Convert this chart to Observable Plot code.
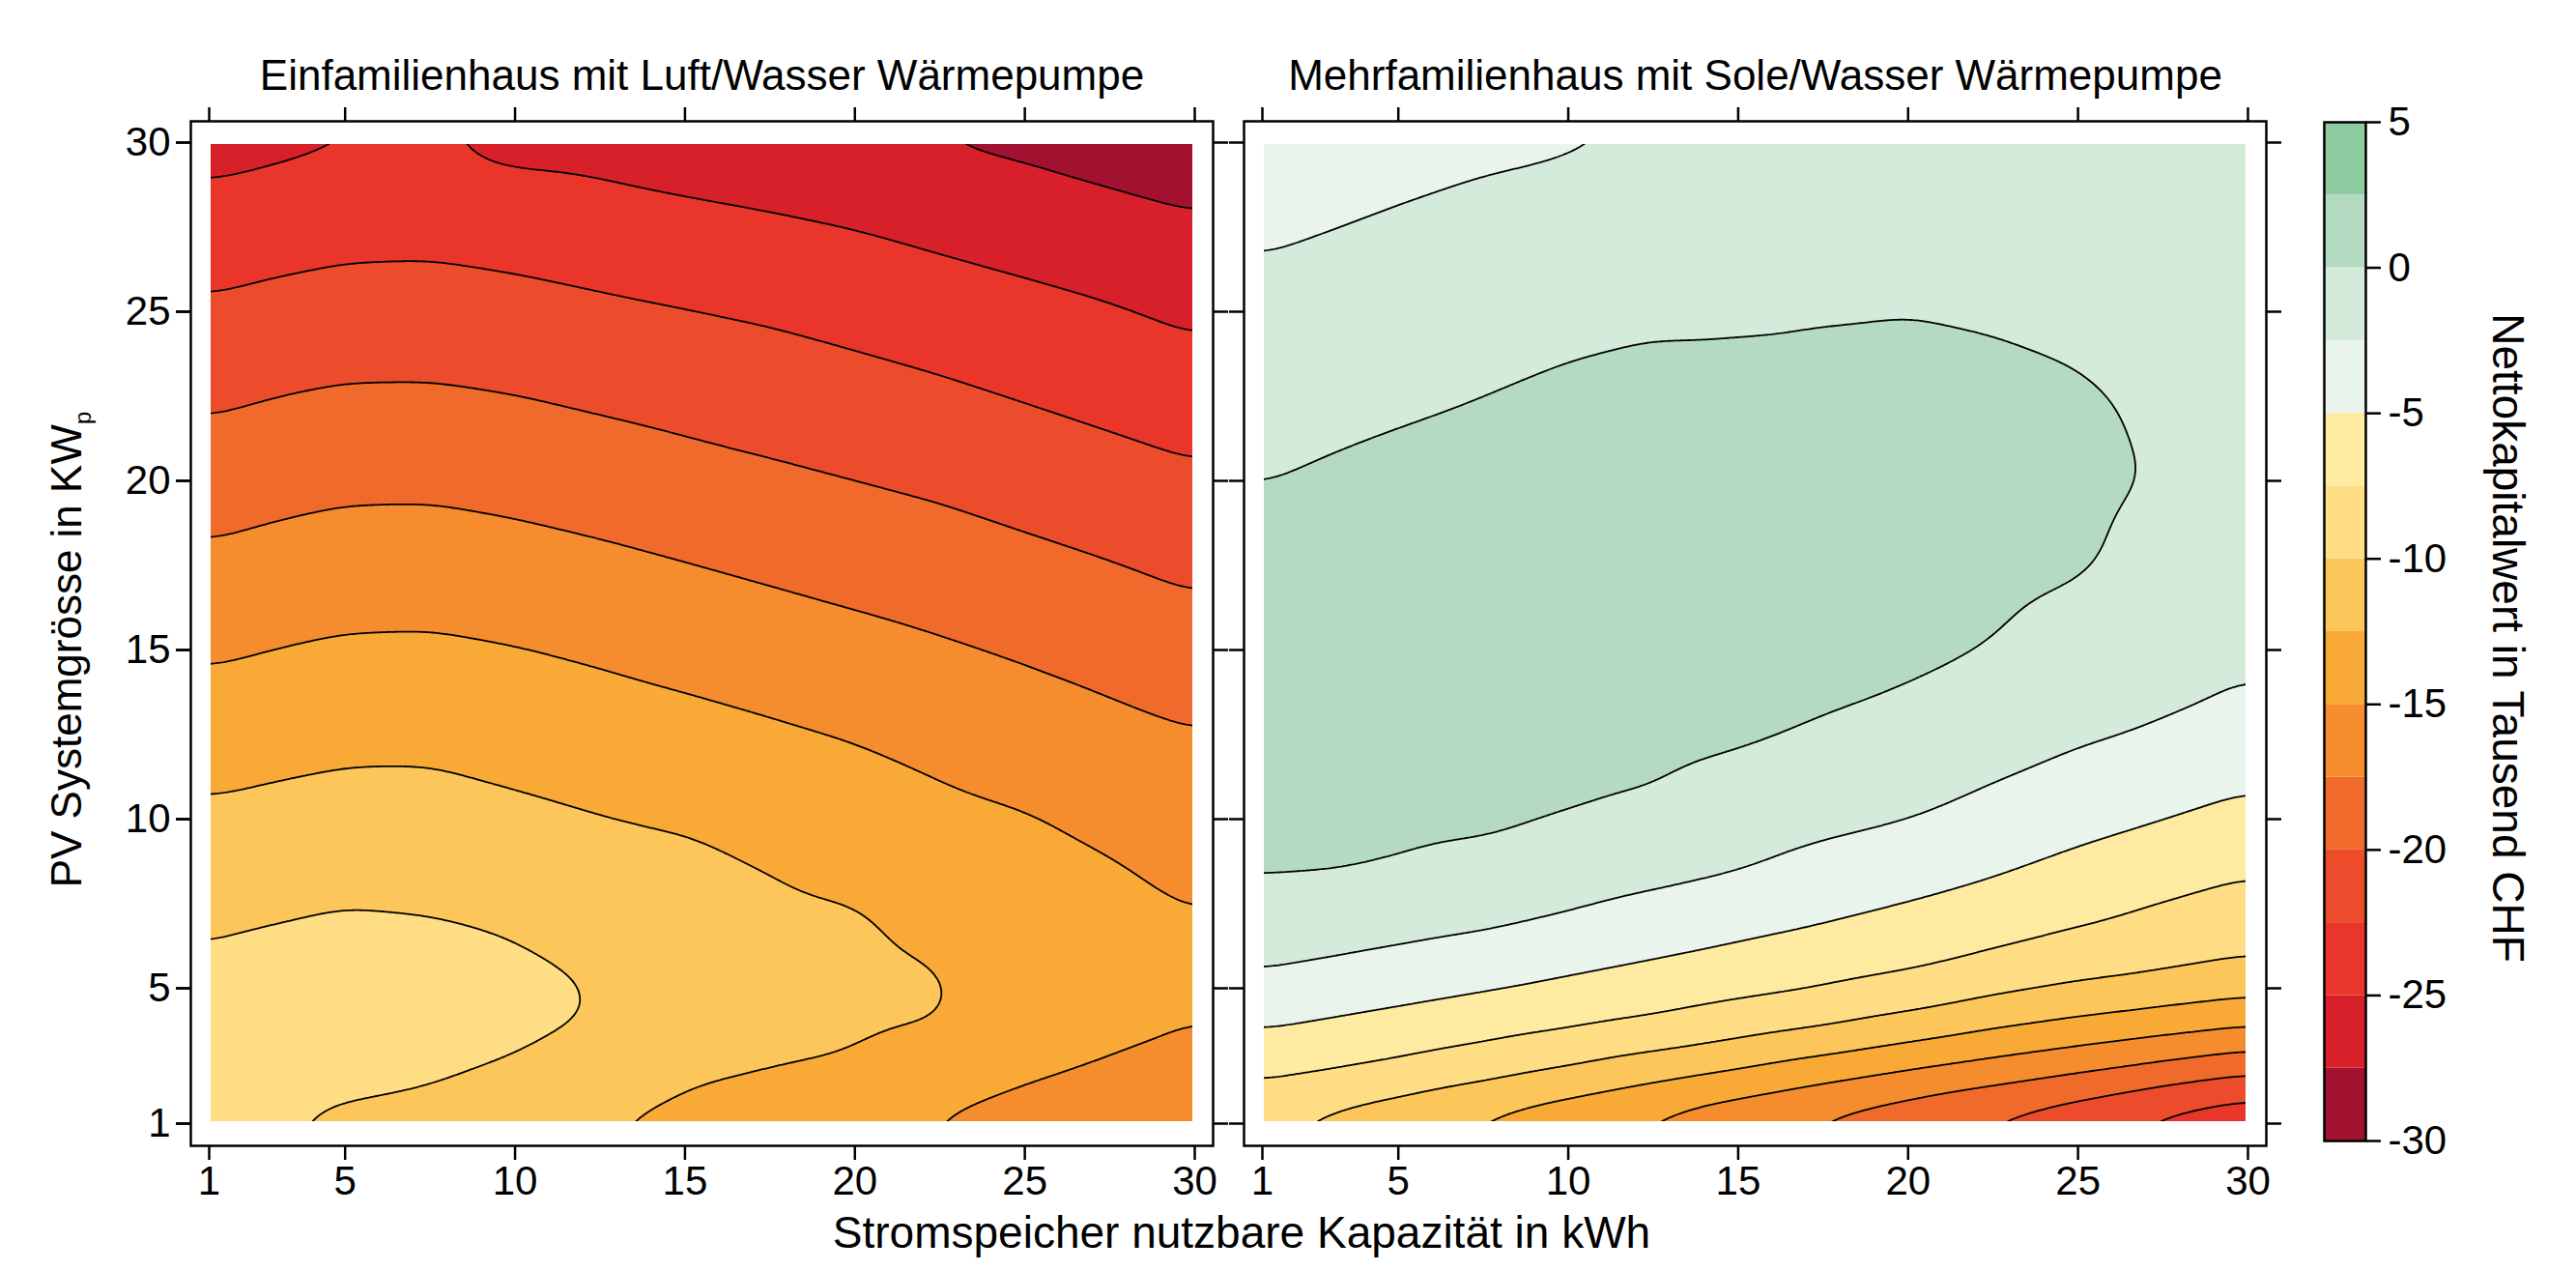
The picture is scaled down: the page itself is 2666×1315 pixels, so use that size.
<!DOCTYPE html>
<html><head><meta charset="utf-8">
<script src="https://cdn.jsdelivr.net/npm/d3@7"></script>
<script src="https://cdn.jsdelivr.net/npm/@observablehq/plot@0.6"></script>
<style>
html,body{margin:0;padding:0;background:#fff;}
#wrap{position:relative;width:2666px;height:1315px;background:#fff;}
#main{position:absolute;left:0;top:0;}
#key{position:absolute;left:2390px;top:0;}
</style></head><body><div id="wrap"><div id="main"></div><div id="key"></div></div>
<script>
const panels = ["Einfamilienhaus mit Luft/Wasser Wärmepumpe", "Mehrfamilienhaus mit Sole/Wasser Wärmepumpe"];
const xs = [1, 3, 5, 7.5, 10, 12.5, 15, 17.5, 20, 22.5, 25, 27.5, 30];
const ys = [1, 2.5, 4, 5.5, 7, 8.5, 10, 12.5, 15, 17.5, 20, 22.5, 25, 27.5, 30];
// values per column x (rows follow ys), thousand CHF
const efhValues = [
  [-9.45, -9.2, -9.4, -9.7, -10.24, -11.16, -12.07, -13.68, -15.33, -17.0, -18.7, -20.42, -22.15, -23.9, -25.9],
  [-9.9, -8.9, -9.0, -9.3, -10.03, -10.9, -11.8, -13.35, -14.97, -16.6, -18.3, -20.0, -21.8, -23.5, -25.55],
  [-10.6, -9.3, -8.9, -9.0, -9.75, -10.7, -11.57, -13.08, -14.68, -16.3, -17.99, -19.72, -21.48, -23.25, -25.2],
  [-10.85, -9.7, -8.8, -8.9, -9.95, -10.77, -11.6, -13.04, -14.62, -16.27, -17.95, -19.7, -21.42, -23.19, -24.9],
  [-11.65, -10.35, -9.4, -9.5, -10.35, -11.16, -12.0, -13.45, -14.91, -16.57, -18.25, -19.97, -21.7, -23.48, -25.7],
  [-12.55, -11.2, -10.05, -10.15, -11.1, -11.85, -12.4, -13.82, -15.33, -16.97, -18.66, -20.38, -22.08, -23.86, -25.85],
  [-13.2, -12.1, -11.45, -11.25, -11.5, -12.0, -12.7, -14.23, -15.79, -17.43, -19.12, -20.79, -22.43, -24.26, -26.3],
  [-13.9, -12.45, -12.0, -11.85, -12.05, -12.52, -13.33, -14.68, -16.25, -17.9, -19.57, -21.17, -22.79, -24.63, -26.65],
  [-14.55, -12.85, -12.1, -12.0, -12.2, -13.06, -13.83, -15.13, -16.73, -18.36, -20.0, -21.6, -23.27, -25.04, -27.0],
  [-15.3, -13.9, -12.3, -12.35, -13.17, -13.8, -14.43, -15.7, -17.23, -18.81, -20.43, -22.07, -23.78, -25.57, -27.7],
  [-15.8, -14.75, -14.0, -13.7, -13.8, -14.2, -14.85, -16.28, -17.76, -19.36, -20.99, -22.63, -24.3, -26.05, -28.0],
  [-16.15, -15.2, -14.6, -14.3, -14.35, -14.8, -15.53, -16.86, -18.32, -19.9, -21.55, -23.18, -24.8, -26.59, -28.55],
  [-16.55, -15.6, -14.95, -14.7, -14.85, -15.48, -16.2, -17.4, -18.94, -20.51, -22.1, -23.78, -25.47, -27.16, -29.0]
];
const mfhValues = [
  [-9.9, -7.01, -4.65, -2.44, -1.09, 0.2, 0.75, 1.2, 1.25, 0.85, -0.04, -0.96, -1.89, -2.8, -3.74],
  [-11.0, -7.54, -5.17, -2.91, -1.31, 0.13, 0.7, 1.2, 1.3, 1.0, 0.3, -0.64, -1.6, -2.54, -3.49],
  [-12.0, -8.2, -5.7, -3.41, -1.64, -0.2, 0.55, 1.15, 1.35, 1.2, 0.55, -0.33, -1.3, -2.25, -3.2],
  [-13.4, -9.21, -6.37, -4.06, -2.06, -0.74, 0.45, 1.1, 1.45, 1.35, 0.85, 0.0, -0.96, -1.92, -2.88],
  [-14.7, -10.38, -7.01, -4.79, -2.71, -1.34, -0.05, 0.85, 1.35, 1.45, 1.2, 0.5, -0.71, -1.65, -2.7],
  [-15.9, -11.65, -7.71, -5.46, -3.45, -1.88, -0.45, 0.7, 1.2, 1.5, 1.4, 0.8, -0.4, -1.3, -2.45],
  [-17.3, -12.78, -8.62, -6.13, -4.19, -2.38, -1.32, 0.3, 1.0, 1.4, 1.3, 0.7, -0.3, -1.0, -2.0],
  [-18.45, -14.09, -9.48, -6.69, -4.89, -3.26, -1.96, -0.25, 0.85, 1.3, 1.25, 0.7, -0.15, -0.85, -1.8],
  [-19.6, -15.32, -10.59, -7.38, -5.62, -3.95, -2.41, -0.87, 0.55, 1.1, 1.15, 0.7, -0.05, -0.7, -1.6],
  [-20.9, -16.39, -11.82, -8.38, -6.38, -4.76, -3.24, -1.53, -0.1, 0.7, 0.85, 0.5, -0.2, -0.75, -1.5],
  [-22.25, -17.5, -12.78, -9.25, -7.2, -5.69, -4.21, -2.17, -1.03, 0.25, 0.45, 0.25, -0.5, -1.0, -1.55],
  [-23.85, -18.68, -13.64, -9.83, -8.08, -6.49, -4.97, -2.6, -1.9, -0.7, -0.12, -0.35, -0.85, -1.2, -1.55],
  [-24.9, -19.93, -14.45, -10.5, -8.75, -7.29, -5.77, -3.4, -2.05, -1.4, -1.0, -0.95, -1.15, -1.4, -1.65]
];
const levels = [-30, -27.5, -25, -22.5, -20, -17.5, -15, -12.5, -10, -7.5, -5, -2.5, 0, 2.5, 5];
const bandColors = ["#a2112f", "#d7202a", "#e9352a", "#ec4c2b", "#f06a2b", "#f58c2e", "#f9aa36",
                    "#fdc65a", "#fedd84", "#feeaa0", "#e9f4ec", "#d4eadb", "#b4dbc1", "#8fcca1"];
const xTicks = [1, 5, 10, 15, 20, 25, 30];
const yTicks = [1, 5, 10, 15, 20, 25, 30];
const keyTicks = [-30, -25, -20, -15, -10, -5, 0, 5];
const xLabel = "Stromspeicher nutzbare Kapazität in kWh";
const yLabel = "PV Systemgrösse in KW";
const yLabelSub = "p";
const keyLabel = "Nettokapitalwert in Tausend CHF";

const table = [];
[efhValues, mfhValues].forEach((cols, k) => {
  xs.forEach((x, i) => ys.forEach((y, j) => table.push({panel: panels[k], x, y, v: cols[i][j]})));
});

const font = '"Liberation Sans", Arial, Helvetica, sans-serif';
const color = {type: "threshold", domain: levels.slice(1, -1), range: bandColors};
const lw = 2.5;

const main = Plot.plot({
  width: 2390, height: 1315,
  marginLeft: 218, marginRight: 66, marginTop: 149, marginBottom: 155,
  fx: {domain: panels, axis: null, paddingInner: 74 / 1090, paddingOuter: 0, round: false},
  x: {domain: [1, 30], insetLeft: -2, insetRight: -2},
  y: {domain: [1, 30], insetTop: -2, insetBottom: -2},
  color,
  style: {fontFamily: font, fontSize: "42px", color: "#000", background: "#fff", overflow: "visible"},
  marks: [
    Plot.contour(table, {
      fx: "panel", x: "x", y: "y", fill: "v", stroke: "#000", strokeWidth: 1.8,
      thresholds: levels.slice(0, -1), interpolate: "barycentric", blur: 10, pixelSize: 2,
      x1: 1, x2: 30, y1: 1, y2: 30, clip: "frame"
    }),
    Plot.frame({stroke: "#000", strokeWidth: lw, insetLeft: -21, insetRight: -21, insetTop: -24, insetBottom: -25}),
    Plot.axisX({anchor: "bottom", ticks: xTicks, tickSize: 15, tickPadding: 6, dy: 25, label: null, strokeWidth: lw}),
    Plot.axisX({anchor: "top", ticks: xTicks, tickSize: 15, dy: -24, tickFormat: () => "", label: null, strokeWidth: lw}),
    Plot.axisY({anchor: "left", ticks: yTicks, tickSize: 15, tickPadding: 6, dx: -21, label: null, strokeWidth: lw}),
    Plot.axisY({anchor: "left", ticks: yTicks, tickSize: 15, dx: -21, tickFormat: () => "", label: null, facetAnchor: null, strokeWidth: lw}),
    Plot.axisY({anchor: "right", ticks: yTicks, tickSize: 15, dx: 21, tickFormat: () => "", label: null, facetAnchor: null, strokeWidth: lw}),
    Plot.text(panels, {fx: d => d, text: d => d, frameAnchor: "top", dy: -57, lineAnchor: "bottom", fontSize: 44})
  ]
});
document.getElementById("main").appendChild(main);

const ms = d3.select(main);
ms.append("text").attr("x", 1285).attr("y", 1291).attr("text-anchor", "middle")
  .attr("font-family", font).attr("font-size", 46).attr("fill", "#000").text(xLabel);
const yl = ms.append("text").attr("transform", "translate(84,672) rotate(-90)").attr("text-anchor", "middle")
  .attr("font-family", font).attr("font-size", 44).attr("fill", "#000");
yl.append("tspan").text(yLabel);
yl.append("tspan").attr("font-size", 24).attr("dy", 10).text(yLabelSub);

const key = Plot.plot({
  width: 276, height: 1315,
  marginLeft: 15, marginRight: 218, marginTop: 126, marginBottom: 135,
  y: {domain: [-30, 5]},
  color,
  style: {fontFamily: font, fontSize: "42px", color: "#000", background: "#fff", overflow: "visible"},
  marks: [
    Plot.rect(levels.slice(0, -1), {y1: d => d, y2: (d, i) => levels[i + 1], fill: d => d}),
    Plot.frame({stroke: "#000", strokeWidth: lw}),
    Plot.axisY({anchor: "right", ticks: keyTicks, tickSize: 15, tickPadding: 8, tickFormat: d => String(d), label: null, strokeWidth: lw})
  ]
});
document.getElementById("key").appendChild(key);
d3.select(key).append("text").attr("transform", "translate(190,660) rotate(90)").attr("text-anchor", "middle")
  .attr("font-family", font).attr("font-size", 46).attr("fill", "#000").text(keyLabel);
</script></body></html>
